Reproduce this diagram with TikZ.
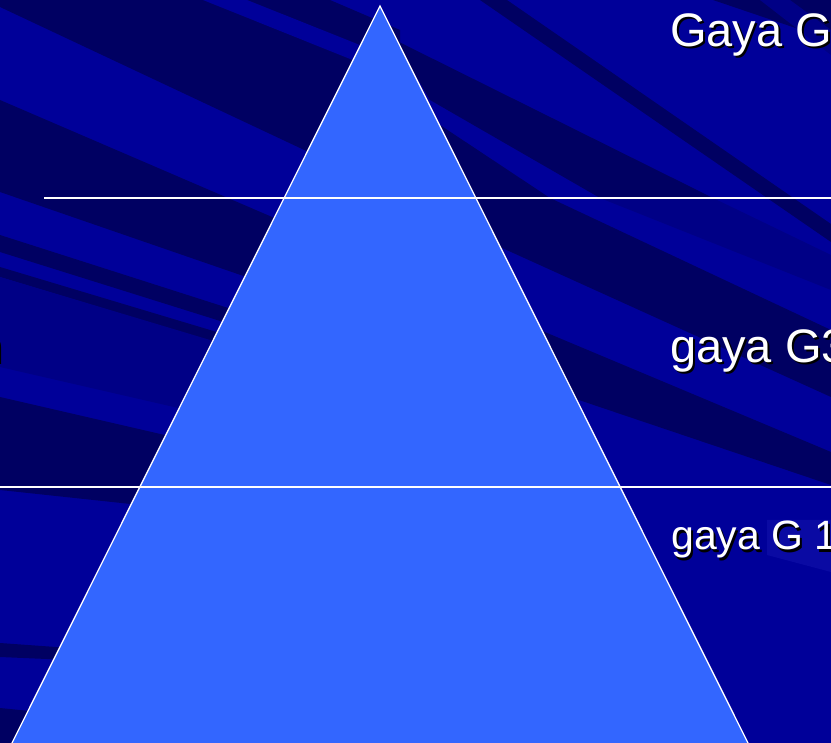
\documentclass[tikz,border=0pt]{standalone}
\usepackage{fontspec}
\setmainfont{Liberation Sans}
\usepackage{xcolor}
\usetikzlibrary{positioning}
\definecolor{slideblue}{RGB}{0,0,153}
\definecolor{streakdark}{RGB}{0,0,98}
\definecolor{streakmid}{RGB}{0,0,134}
\definecolor{streaklight}{RGB}{10,10,163}
\definecolor{pyramidblue}{RGB}{51,102,255}

\begin{document}
\begin{tikzpicture}[x=1pt,y=-1pt,
		streak/.style={fill=streakdark},
		softstreak/.style={fill=streakmid},
		tierline/.style={white,line width=1.7pt},
		gayalabel/.style={anchor=base west,inner sep=0pt,text=white},
		gayashadow/.style={anchor=base west,inner sep=0pt,text=black}]
	\useasboundingbox (0,0) rectangle (831,743);
	\clip (0,0) rectangle (831,743);
	\fill[slideblue] (0,0) rectangle (831,743);
	
	% Dark streaks left of the pyramid.
	\fill[streak] (0,0)--(330,0)--(400,30)--(400,195)--(0,7)--cycle;
	\fill[slideblue] (203,0)--(247,0)--(400,61)--(400,79)--cycle;
	\fill[streak] (0,100)--(400,272)--(400,330)--(0,192)--cycle;
	\fill[streak] (0,235)--(300,331)--(300,346)--(0,252)--cycle;
	\fill[streak] (0,267)--(300,357)--(300,368)--(0,277)--cycle;
	\fill[softstreak] (0,277)--(300,367)--(300,436)--(0,367)--cycle;
	\fill[streak] (0,397)--(260,457)--(260,487)--(0,487)--cycle;
	\fill[streak] (0,487)--(140,487)--(140,505)--(0,490)--cycle;
	\fill[streak] (0,643)--(70,648)--(70,660)--(0,657)--cycle;
	\fill[streak] (0,708)--(40,712)--(40,743)--(0,743)--cycle;
	
	% Dark streaks right of the pyramid.
	\fill[streak] (480,0)--(507,0)--(831,224)--(831,242)--cycle;
	\fill[streak] (713,0)--(831,0)--(831,40)--cycle;
	\fill[softstreak] (760,0)--(790,0)--(831,30)--(831,55)--cycle;
	\fill[streak] (395,40)--(713,198)--(600,198)--(430,100)--cycle;
	\fill[softstreak] (600,198)--(713,198)--(831,255)--(831,290)--cycle;
	\fill[streak] (440,125)--(550,198)--(831,330)--(831,397)--(500,247)--cycle;
	\fill[streak] (540,330)--(831,452)--(831,485)--(570,397)--cycle;
	\fill[streaklight] (767,520)--(831,520)--(831,572)--(767,555)--cycle;
	
	% Pyramid with its tier lines.
	\coordinate (apex) at (380,6);
	\coordinate (baseL) at (12,743);
	\coordinate (baseR) at (748,743);
	\fill[pyramidblue] (apex)--(baseR)--(baseL)--cycle;
	\draw[white,line width=1.3pt] (baseL)--(apex)--(baseR);
	\coordinate (tierAL) at (44,198);
	\coordinate (tierAR) at (831,198);
	\coordinate (tierBL) at (0,487);
	\coordinate (tierBR) at (831,487);
	\draw[tierline] (tierAL)--(tierAR);
	\draw[tierline] (tierBL)--(tierBR);
	
	% Labels, cut by the edges of the slide.
	\node[gayashadow,font=\fontsize{47}{54}\selectfont] (gtopS) at (672,49) {Gaya G};
	\node[gayalabel,font=\fontsize{47}{54}\selectfont] (gtop) at (670,47) {Gaya G};
	\node[gayashadow,font=\fontsize{47}{54}\selectfont] (gmidS) at (672,365) {gaya G3};
	\node[gayalabel,font=\fontsize{47}{54}\selectfont] (gmid) at (670,363) {gaya G3};
	\node[gayashadow,font=\fontsize{41}{48}\selectfont] (gbotS) at (673,552) {gaya G 1};
	\node[gayalabel,font=\fontsize{41}{48}\selectfont] (gbot) at (671,550) {gaya G 1};
	\node[gayashadow,anchor=base east,font=\fontsize{47}{54}\selectfont] (gleftS) at (5,365) {n};
	\node[gayalabel,anchor=base east,font=\fontsize{47}{54}\selectfont] (gleft) at (3,363) {n};
\end{tikzpicture}
\end{document}
